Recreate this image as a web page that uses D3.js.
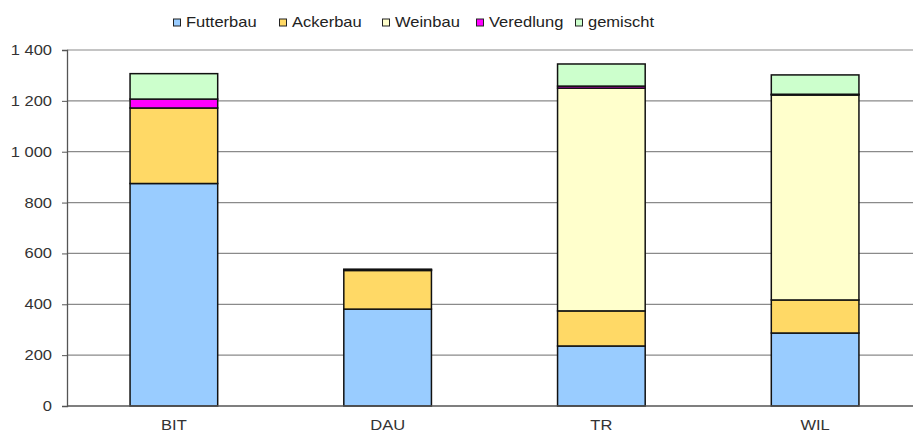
<!DOCTYPE html>
<html>
<head>
<meta charset="utf-8">
<script src="https://cdn.jsdelivr.net/npm/d3@7"></script>
<style>
  body { margin: 0; background: #fff; }
  text { font-family: "Liberation Sans", Arial, sans-serif; }
</style>
</head>
<body>
<div id="chart"></div>
<script>
let width = 913,
    height = 438;

// data
let regions = ["BIT", "DAU", "TR", "WIL"];
let types = ["Futterbau", "Ackerbau", "Weinbau", "Veredlung", "gemischt"];
let futterbau = [875, 381, 236, 287];
let ackerbau = [297, 152, 138, 130];
let weinbau = [0, 3, 876, 806];
let veredlung = [35, 0, 8, 3];
let gemischt = [100, 2, 87, 76];
let yTicks = [0, 200, 400, 600, 800, 1000, 1200, 1400];

let colors = ["#99CCFF", "#FFD966", "#FFFFCC", "#FF00FF", "#CCFFCC"];

let rows = regions.map((r, i) => ({
    region: r,
    Futterbau: futterbau[i],
    Ackerbau: ackerbau[i],
    Weinbau: weinbau[i],
    Veredlung: veredlung[i],
    gemischt: gemischt[i]
}));

let margin = {left: 67, top: 50, bottom: 32};
let stretch = 1.18; // the reference text is a bit wide

let svg = d3.select("#chart").append("svg")
    .attr("width", width)
    .attr("height", height);

let x = d3.scaleBand()
    .domain(regions)
    .range([margin.left, 922])
    .paddingInner(0.59)
    .paddingOuter(0.295);

let y = d3.scaleLinear()
    .domain([0, 1400])
    .range([height - margin.bottom, margin.top]);

let color = d3.scaleOrdinal().domain(types).range(colors);

let fmt = v => d3.format(",")(v).replace(",", " ");

// gridlines
svg.append("g")
  .selectAll("line")
  .data(yTicks.filter(d => d > 0))
  .enter().append("line")
    .attr("x1", margin.left)
    .attr("x2", width)
    .attr("y1", d => y(d))
    .attr("y2", d => y(d))
    .attr("stroke", "#8a8a8a")
    .attr("stroke-width", 1.2);

// stacked bars
let stack = d3.stack().keys(types)(rows);

svg.append("g")
  .selectAll("g")
  .data(stack)
  .enter().append("g")
    .attr("fill", d => color(d.key))
  .selectAll("rect")
  .data(d => d.filter(s => s[1] - s[0] > 0))
  .enter().append("rect")
    .attr("x", d => x(d.data.region))
    .attr("width", x.bandwidth())
    .attr("y", d => y(d[1]))
    .attr("height", d => y(d[0]) - y(d[1]))
    .attr("stroke", "#111")
    .attr("stroke-width", 1.5);

// y axis
let yAxis = d3.axisLeft(y)
    .tickValues(yTicks)
    .tickSize(5)
    .tickFormat(fmt);

let ga = svg.append("g")
    .attr("transform", `translate(${margin.left},0)`)
    .call(yAxis);
ga.select(".domain").attr("stroke", "#555").attr("stroke-width", 1.3);
ga.selectAll(".tick line").attr("stroke", "#555");
ga.selectAll(".tick text")
    .attr("x", 0)
    .attr("transform", `translate(-15,0) scale(${stretch},1)`)
    .attr("fill", "#333")
    .style("font-size", "14px")
    .style("font-family", "Liberation Sans, Arial, sans-serif");

// x baseline
svg.append("line")
    .attr("x1", margin.left)
    .attr("x2", width)
    .attr("y1", y(0))
    .attr("y2", y(0))
    .attr("stroke", "#555")
    .attr("stroke-width", 1.3);

// x labels
svg.append("g")
  .selectAll("text")
  .data(regions)
  .enter().append("text")
    .attr("transform", d => `translate(${x(d) + x.bandwidth() / 2},${y(0) + 24}) scale(${stretch},1)`)
    .attr("text-anchor", "middle")
    .attr("fill", "#333")
    .style("font-size", "14px")
    .text(d => d);

// legend
let legendX = [173, 279, 382, 476, 575];
let legend = svg.append("g")
  .selectAll("g")
  .data(types)
  .enter().append("g")
    .attr("transform", (d, i) => `translate(${legendX[i]},0)`);

legend.append("rect")
    .attr("x", 0.5)
    .attr("y", 19)
    .attr("width", 7)
    .attr("height", 7)
    .attr("fill", d => color(d))
    .attr("stroke", "#222")
    .attr("stroke-width", 1);

legend.append("text")
    .attr("transform", `translate(13,27) scale(${stretch},1)`)
    .attr("fill", "#222")
    .style("font-size", "14px")
    .text(d => d);
</script>
</body>
</html>
